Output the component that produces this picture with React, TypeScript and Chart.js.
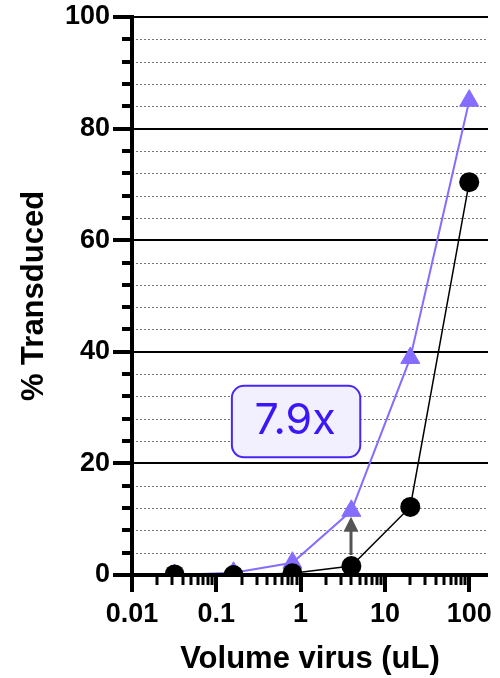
import React, { useEffect, useRef } from 'react';
import { Chart, registerables } from 'chart.js';

Chart.register(...registerables);

// ---- data ----
const volumes = [0.032, 0.16, 0.8, 4, 20, 100];
const control = [0.1, 0, 0.3, 1.6, 12.2, 70.4];
const enhanced = [0, 0.4, 2.2, 11.5, 38.9, 85];
const xTickValues = [0.01, 0.1, 1, 10, 100];
const xTickLabels = ['0.01', '0.1', '1', '10', '100'];
const yTickValues = [0, 20, 40, 60, 80, 100];
const yMinorStep = 4;
const foldLabel = '7.9x';
const arrowIndex = 3;

// annotation box in data coordinates
const labelBox = { xMin: 0.153, xMax: 5.1, yMin: 21.1, yMax: 33.9 };

const FONT = "'Liberation Sans', Arial, Helvetica, sans-serif";
const PURPLE = '#866cff';

const decorations = {
  id: 'decorations',
  beforeDatasetsDraw(chart: any) {
    const { ctx, chartArea: a, scales } = chart;
    const y = scales.y;
    ctx.save();
    for (let v = yMinorStep; v <= 100; v += yMinorStep) {
      const major = v % 20 === 0;
      const py = y.getPixelForValue(v);
      ctx.beginPath();
      if (major) {
        ctx.strokeStyle = '#000';
        ctx.lineWidth = 2;
        ctx.setLineDash([]);
        ctx.moveTo(a.left, Math.round(py));
        ctx.lineTo(a.right, Math.round(py));
      } else {
        ctx.strokeStyle = '#777';
        ctx.lineWidth = 1;
        ctx.setLineDash([2, 2]);
        ctx.moveTo(a.left, Math.round(py) + 0.5);
        ctx.lineTo(a.right, Math.round(py) + 0.5);
      }
      ctx.stroke();
    }
    ctx.restore();
  },
  afterDatasetsDraw(chart: any) {
    const { ctx, chartArea: a, scales } = chart;
    const x = scales.x;
    const y = scales.y;
    ctx.save();
    ctx.setLineDash([]);
    ctx.strokeStyle = '#000';
    ctx.lineCap = 'butt';

    // y ticks
    for (let v = 0; v <= 100; v += yMinorStep) {
      const major = v % 20 === 0;
      const py = Math.round(y.getPixelForValue(v));
      ctx.lineWidth = 4;
      ctx.beginPath();
      ctx.moveTo(a.left - (major ? 19 : 10), py);
      ctx.lineTo(a.left, py);
      ctx.stroke();
    }
    // x ticks
    for (let d = 0; d < xTickValues.length; d++) {
      const base = xTickValues[d];
      for (let m = 1; m <= 9; m++) {
        const v = base * m;
        if (v > x.max) break;
        const px = Math.round(x.getPixelForValue(v));
        const major = m === 1;
        ctx.lineWidth = major ? 4 : 3;
        ctx.beginPath();
        ctx.moveTo(px, a.bottom);
        ctx.lineTo(px, a.bottom + (major ? 17 : 10));
        ctx.stroke();
      }
    }
    // axis lines
    ctx.lineWidth = 4;
    ctx.beginPath();
    ctx.moveTo(a.left, a.top - 2);
    ctx.lineTo(a.left, a.bottom + 2);
    ctx.stroke();
    ctx.beginPath();
    ctx.moveTo(a.left - 2, a.bottom);
    ctx.lineTo(a.right, a.bottom);
    ctx.stroke();

    // arrow
    const ax = Math.round(x.getPixelForValue(volumes[arrowIndex]));
    const yStart = y.getPixelForValue(control[arrowIndex]) - 11;
    const yTip = y.getPixelForValue(enhanced[arrowIndex]) + 6;
    ctx.strokeStyle = '#555';
    ctx.fillStyle = '#555';
    ctx.lineWidth = 3;
    ctx.beginPath();
    ctx.moveTo(ax, yStart);
    ctx.lineTo(ax, yTip + 14);
    ctx.stroke();
    ctx.beginPath();
    ctx.moveTo(ax, yTip);
    ctx.lineTo(ax - 7.5, yTip + 15);
    ctx.lineTo(ax + 7.5, yTip + 15);
    ctx.closePath();
    ctx.fill();

    // label box
    const bx1 = x.getPixelForValue(labelBox.xMin);
    const bx2 = x.getPixelForValue(labelBox.xMax);
    const by1 = y.getPixelForValue(labelBox.yMax);
    const by2 = y.getPixelForValue(labelBox.yMin);
    ctx.beginPath();
    (ctx as any).roundRect(bx1, by1, bx2 - bx1, by2 - by1, 12);
    ctx.fillStyle = '#f2efff';
    ctx.fill();
    ctx.strokeStyle = '#4a26f5';
    ctx.lineWidth = 2;
    ctx.stroke();
    ctx.fillStyle = '#3a16f8';
    ctx.font = "400 43px Inter, 'Noto Sans', sans-serif";
    ctx.textAlign = 'center';
    ctx.textBaseline = 'middle';
    ctx.fillText(foldLabel, (bx1 + bx2) / 2 - 1, (by1 + by2) / 2);
    ctx.restore();
  },
};

export default function App() {
  const ref = useRef<HTMLCanvasElement>(null);
  useEffect(() => {
    document.body.style.margin = '0';
    const chart = new Chart(ref.current as HTMLCanvasElement, {
      type: 'line',
      data: {
        labels: volumes,
        datasets: [
          {
            label: 'control',
            data: volumes.map((v, i) => ({ x: v, y: control[i] })),
            borderColor: '#000',
            backgroundColor: '#000',
            borderWidth: 1.5,
            pointRadius: 10,
            pointHoverRadius: 10,
            pointStyle: 'circle',
            pointBorderWidth: 0,
            tension: 0,
            clip: 0,
          },
          {
            label: 'enhanced',
            data: volumes.map((v, i) => ({ x: v, y: enhanced[i] })),
            borderColor: PURPLE,
            backgroundColor: PURPLE,
            borderWidth: 2,
            pointRadius: 11,
            pointHoverRadius: 11,
            pointStyle: 'triangle',
            pointBorderWidth: 1,
            tension: 0,
            clip: 0,
          },
        ],
      },
      options: {
        animation: false,
        responsive: true,
        maintainAspectRatio: false,
        layout: { padding: { top: 17, right: 8, left: 0, bottom: 0 } },
        plugins: { legend: { display: false }, tooltip: { enabled: false } },
        scales: {
          x: {
            type: 'logarithmic',
            min: 0.01,
            max: 167,
            grid: { display: false, drawTicks: false },
            border: { display: false },
            afterBuildTicks: (s: any) => {
              s.ticks = xTickValues.map((v) => ({ value: v }));
            },
            afterFit: (s: any) => {
              s.height = 103;
              s.paddingLeft = 0;
              s.paddingRight = 0;
            },
            ticks: {
              autoSkip: false,
              maxRotation: 0,
              padding: 23,
              color: '#000',
              font: { family: FONT, size: 27, weight: 'bold' },
              callback: (v: any) => {
                const i = xTickValues.findIndex((t) => Math.abs(t - Number(v)) < 1e-9);
                return i >= 0 ? xTickLabels[i] : '';
              },
            },
            title: {
              display: true,
              text: 'Volume virus (uL)',
              color: '#000',
              font: { family: FONT, size: 31, weight: 'bold' },
              padding: { top: 0, bottom: 0 },
            },
          },
          y: {
            type: 'linear',
            min: 0,
            max: 100,
            grid: { display: false, drawTicks: false },
            border: { display: false },
            afterBuildTicks: (s: any) => {
              s.ticks = yTickValues.map((v) => ({ value: v }));
            },
            afterFit: (s: any) => {
              s.width = 132;
              s.paddingTop = 0;
              s.paddingBottom = 0;
            },
            ticks: {
              padding: 22,
              color: '#000',
              font: { family: FONT, size: 27, weight: 'bold' },
            },
            title: {
              display: true,
              text: '% Transduced',
              color: '#000',
              font: { family: FONT, size: 31, weight: 'bold' },
              padding: { top: 16, bottom: 0 },
            },
          },
        },
      },
      plugins: [decorations],
    });
    return () => chart.destroy();
  }, []);
  return (
    <div style={{ position: 'absolute', left: 0, top: 0, width: 500, height: 678 }}>
      <canvas ref={ref} />
    </div>
  );
}
